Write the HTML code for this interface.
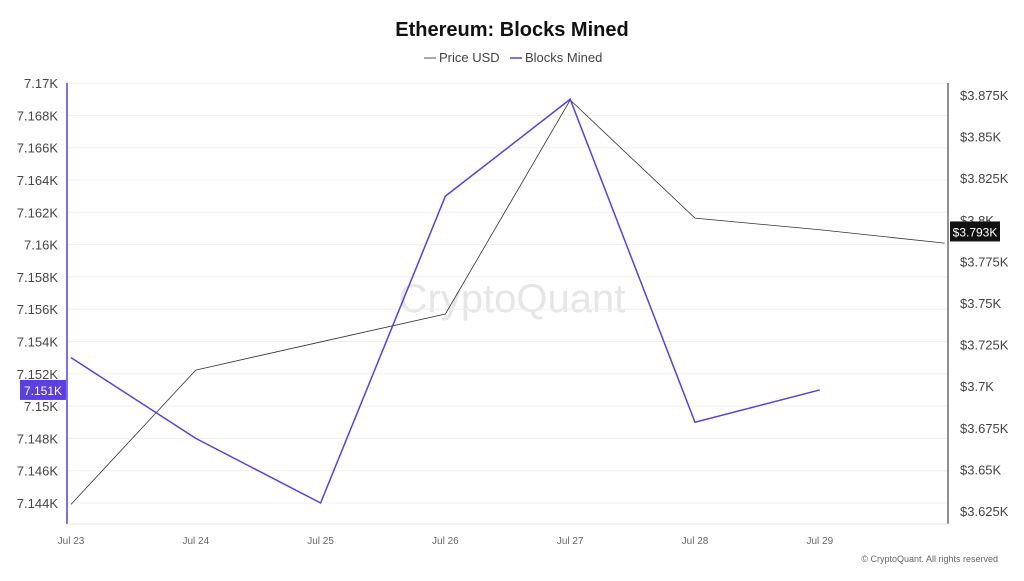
<!DOCTYPE html>
<html><head><meta charset="utf-8"><style>
body{margin:0;background:#fff;font-family:"Liberation Sans",sans-serif;}
svg text{font-family:"Liberation Sans",sans-serif;}
</style></head><body>
<svg id="c" width="1024" height="576">
<text x="512" y="36" text-anchor="middle" font-size="20" font-weight="bold" fill="#111">Ethereum: Blocks Mined</text>
<g>
<line x1="424" y1="58" x2="436" y2="58" stroke="#555" stroke-width="1"/>
<text x="439" y="62" font-size="13" fill="#444">Price USD</text>
<line x1="510" y1="58" x2="522" y2="58" stroke="#5b3fe0" stroke-width="1.5"/>
<text x="525" y="62" font-size="13" fill="#444">Blocks Mined</text>
</g>
<text x="512" y="312" text-anchor="middle" font-size="40" fill="#e6e6e6">CryptoQuant</text>
<g id="grid"></g><g id="lax"></g><g id="rax"></g><g id="xax"></g><g id="series"></g>
<text x="998" y="562" text-anchor="end" font-size="9" fill="#666">© CryptoQuant. All rights reserved</text>
</svg>
<script>
const dates=["Jul 23","Jul 24","Jul 25","Jul 26","Jul 27","Jul 28","Jul 29"];
const blocks=[7153,7148,7144,7163,7169,7149,7151];
const price=[3.629,3.7097,3.7266,3.7434,3.872,3.801,3.794,3.786];
const leftTicks=[7.144,7.146,7.148,7.15,7.152,7.154,7.156,7.158,7.16,7.162,7.164,7.166,7.168,7.17];
const rightTicks=[3.625,3.65,3.675,3.7,3.725,3.75,3.775,3.8,3.825,3.85,3.875];
const NS="http://www.w3.org/2000/svg";
const X=i=>71+i*124.8;
const YL=v=>503-(v-7144)/2*32.3;
const YR=v=>511-(v-3.625)/0.025*41.6;
function mk(p,t,a){const e=document.createElementNS(NS,t);for(const k in a)e.setAttribute(k,a[k]);document.getElementById(p).appendChild(e);return e;}
leftTicks.forEach(t=>{const y=YL(t*1000);
 const g=mk('grid','line',{x1:67,x2:948,y1:y,y2:y,stroke:'#f0f0f0'});
 
 
 const l=mk('lax','text',{x:58,y:y+5,'text-anchor':'end','font-size':13,fill:'#444'});
 l.textContent=(+t.toFixed(3))+'K';
 
 
});
rightTicks.forEach(t=>{const y=YR(t);
 const l=mk('rax','text',{x:960,y:y+5,'font-size':13,fill:'#444'});
 l.textContent='$'+(+t.toFixed(3))+'K';
 
 
});
const la=mk('lax','line',{x1:67,x2:67,y1:83,y2:524,stroke:'#5b3fe0','stroke-width':1.5});


const ra=mk('rax','line',{x1:948,x2:948,y1:83,y2:524,stroke:'#222'});


const xa=mk('xax','line',{x1:67,x2:948,y1:524,y2:524,stroke:'#e5e5e5'});


dates.forEach((d,i)=>{const l=mk('xax','text',{x:X(i),y:544,'text-anchor':'middle','font-size':10,fill:'#666'});
 l.textContent=d;
 
 });
const pp=mk('series','polyline',{points:price.map((v,i)=>X(i)+','+YR(v)).join(' '),fill:'none',stroke:'#333','stroke-width':0.8});


const bp=mk('series','polyline',{points:blocks.map((v,i)=>X(i)+','+YL(v)).join(' '),fill:'none',stroke:'#5b3fe0','stroke-width':1.5});


const lastB=blocks[blocks.length-1], yb=YL(lastB);
const r1=mk('series','rect',{x:20,y:yb-10,width:46,height:20,fill:'#5b3fe0'});


const t1=mk('series','text',{x:43,y:yb+5,'text-anchor':'middle','font-size':12,fill:'#fff'});
t1.textContent=(lastB/1000).toFixed(3)+'K';


const yp=YR(3.793);
const r2=mk('series','rect',{x:950,y:yp-10,width:50,height:20,fill:'#111'});


const t2=mk('series','text',{x:975,y:yp+5,'text-anchor':'middle','font-size':12,fill:'#fff'});
t2.textContent='$3.793K';


</script>
</body></html>
